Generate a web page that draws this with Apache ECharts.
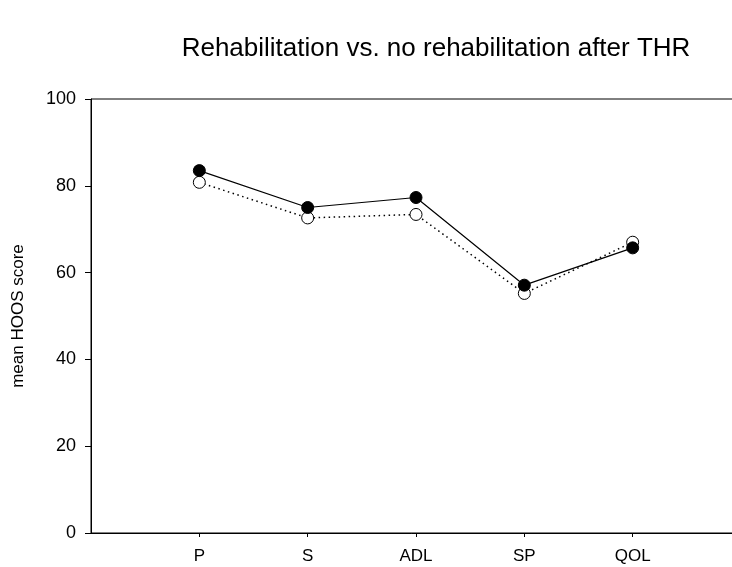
<!DOCTYPE html>
<html>
<head>
<meta charset="utf-8">
<script src="https://cdn.jsdelivr.net/npm/echarts@6/dist/echarts.min.js"></script>
<style>
  html, body { margin: 0; padding: 0; background: #fff; }
  #chart { width: 732px; height: 567px; }
</style>
</head>
<body>
<div id="chart"></div>
<script>
// HOOS subscales on the x axis
const categories = ['P', 'S', 'ADL', 'SP', 'QOL'];
// mean HOOS score, rehabilitation group (filled circles, solid line)
const rehab = [83.5, 75.0, 77.3, 57.1, 65.7];
// mean HOOS score, no rehabilitation group (open circles, dotted line)
const noRehab = [80.8, 72.6, 73.4, 55.2, 67.0];
// y axis range and tick step
const yMin = 0, yMax = 100, yStep = 20;

// pad the axis with an empty slot at each end so the subscales sit inside the frame
const slots = [''].concat(categories, ['']);
const pad = arr => ['-'].concat(arr, ['-']);

const font = 'Liberation Sans, Arial, sans-serif';
const chart = echarts.init(document.getElementById('chart'), null, { renderer: 'canvas' });

chart.setOption({
  backgroundColor: '#ffffff',
  animation: false,
  title: {
    text: 'Rehabilitation vs. no rehabilitation after THR',
    left: 431,
    top: 31,
    textAlign: 'center',
    textStyle: { fontFamily: font, fontSize: 26, fontWeight: 'normal', color: '#000' }
  },
  grid: {
    left: 91, top: 99, right: -9, bottom: 34,
    show: true, borderColor: '#000', borderWidth: 1,
    containLabel: false,
    outerBoundsMode: 'none'
  },
  xAxis: {
    type: 'category',
    data: slots,
    boundaryGap: false,
    axisLine: { lineStyle: { color: '#000', width: 1 } },
    axisTick: {
      inside: false, length: 4,
      interval: (i, v) => v !== '',
      lineStyle: { color: '#000' }
    },
    axisLabel: {
      interval: 0, margin: 15,
      fontFamily: font, fontSize: 17, color: '#000'
    },
    splitLine: { show: false }
  },
  yAxis: {
    type: 'value',
    min: yMin, max: yMax, interval: yStep,
    name: 'mean HOOS score',
    nameLocation: 'middle',
    nameGap: 64,
    nameTextStyle: { fontFamily: font, fontSize: 17, color: '#000' },
    axisLine: { show: true, lineStyle: { color: '#000', width: 1 } },
    axisTick: { show: true, inside: false, length: 6, lineStyle: { color: '#000' } },
    axisLabel: { margin: 15, fontFamily: font, fontSize: 18, color: '#000' },
    splitLine: { show: false }
  },
  series: [
    {
      name: 'no rehabilitation',
      type: 'line',
      data: pad(noRehab),
      symbol: 'circle',
      symbolSize: 12,
      itemStyle: { color: '#fff', borderColor: '#000', borderWidth: 1 },
      lineStyle: { color: '#000', width: 1.5, type: [1.5, 3.5] },
      z: 2
    },
    {
      name: 'rehabilitation',
      type: 'line',
      data: pad(rehab),
      symbol: 'circle',
      symbolSize: 12,
      itemStyle: { color: '#000', borderColor: '#000', borderWidth: 1 },
      lineStyle: { color: '#000', width: 1.2, type: 'solid' },
      z: 3
    }
  ]
});
</script>
</body>
</html>
